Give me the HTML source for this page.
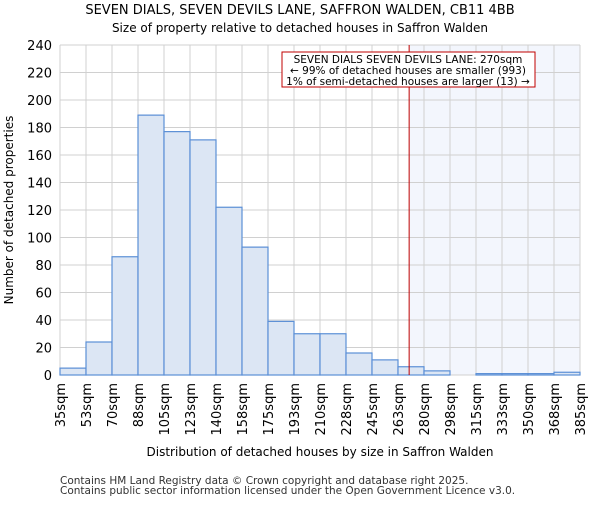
<!DOCTYPE html>
<html><head><meta charset="utf-8"><style>
body{margin:0;background:#fff;font-family:"Liberation Sans","DejaVu Sans",sans-serif}
</style></head><body>
<svg id="chart" width="600" height="500" xmlns="http://www.w3.org/2000/svg" font-family="DejaVu Sans, Liberation Sans, sans-serif">
<text x="300" y="14" text-anchor="middle" font-size="13">SEVEN DIALS, SEVEN DEVILS LANE, SAFFRON WALDEN, CB11 4BB</text>
<text x="300" y="32" text-anchor="middle" font-size="12">Size of property relative to detached houses in Saffron Walden</text>
<g id="grid"></g><g id="bars"></g><g id="ticks"></g>
<text transform="translate(13,210) rotate(-90)" text-anchor="middle" font-size="12">Number of detached properties</text>
<text x="320" y="456" text-anchor="middle" font-size="12">Distribution of detached houses by size in Saffron Walden</text>
<text x="60" y="484" font-size="10.5" fill="#333">Contains HM Land Registry data © Crown copyright and database right 2025.</text>
<text x="60" y="494" font-size="10.5" fill="#333">Contains public sector information licensed under the Open Government Licence v3.0.</text>
</svg>
<script>
const binLabels=["35sqm","53sqm","70sqm","88sqm","105sqm","123sqm","140sqm","158sqm","175sqm","193sqm","210sqm","228sqm","245sqm","263sqm","280sqm","298sqm","315sqm","333sqm","350sqm","368sqm","385sqm"];
const counts=[5,24,86,189,177,171,122,93,39,30,30,16,11,6,3,0,1,1,1,2];
const yTicks=[0,20,40,60,80,100,120,140,160,180,200,220,240];
const subjectSize=270;
const binStart=35, binWidth=17.5;
const X0=60,X1=580,Y0=375,Y1=45,YMAX=240;
const NS="http://www.w3.org/2000/svg";
const bw=(X1-X0)/counts.length;
const xs=v=>X0+(v-binStart)/binWidth*bw;
const ys=v=>Y0-v/YMAX*(Y0-Y1);
function mk(p,tag,a){const e=document.createElementNS(NS,tag);for(const k in a)e.setAttribute(k,a[k]);p.appendChild(e);return e;}
const grid=document.getElementById('grid'),bars=document.getElementById('bars'),ticks=document.getElementById('ticks');
const lx=xs(subjectSize);
const sh=mk(grid,'rect',{x:lx,y:Y1,width:X1-lx,height:Y0-Y1,fill:'#f3f6fd'});


for(let i=0;i<=counts.length;i++){const l=mk(grid,'line',{x1:X0+i*bw,x2:X0+i*bw,y1:Y1,y2:Y0,stroke:'#d0d0d0'});

}
yTicks.forEach(t=>{const l=mk(grid,'line',{x1:X0,x2:X1,y1:ys(t),y2:ys(t),stroke:'#d0d0d0'});


const tx=mk(ticks,'text',{x:X0-8,y:ys(t)+5,'text-anchor':'end','font-size':13});tx.textContent=t;

});
counts.forEach((c,i)=>{const x=X0+i*bw;
const r=mk(bars,'rect',{x:x,y:ys(c),width:bw,height:Y0-ys(c),fill:'#dce6f4',stroke:'#5b8fd6','stroke-width':1.2});

});
binLabels.forEach((s,i)=>{const x=X0+i*bw;const t=mk(ticks,'text',{transform:`translate(${x+5},${Y0+8}) rotate(-90)`,'text-anchor':'end','font-size':13});t.textContent=s;

});
const ml=mk(bars,'line',{x1:lx,x2:lx,y1:Y1,y2:Y0,stroke:'#c00000','stroke-width':1});


const g=mk(bars,'g',{});


mk(g,'rect',{x:282,y:52,width:253,height:35,fill:'#fff',stroke:'#c00000'});
["SEVEN DIALS SEVEN DEVILS LANE: 270sqm","← 99% of detached houses are smaller (993)","1% of semi-detached houses are larger (13) →"].forEach((s,i)=>{const t=mk(g,'text',{x:408,y:63+i*11,'text-anchor':'middle','font-size':10.5});t.textContent=s;

});
</script>
</body></html>
